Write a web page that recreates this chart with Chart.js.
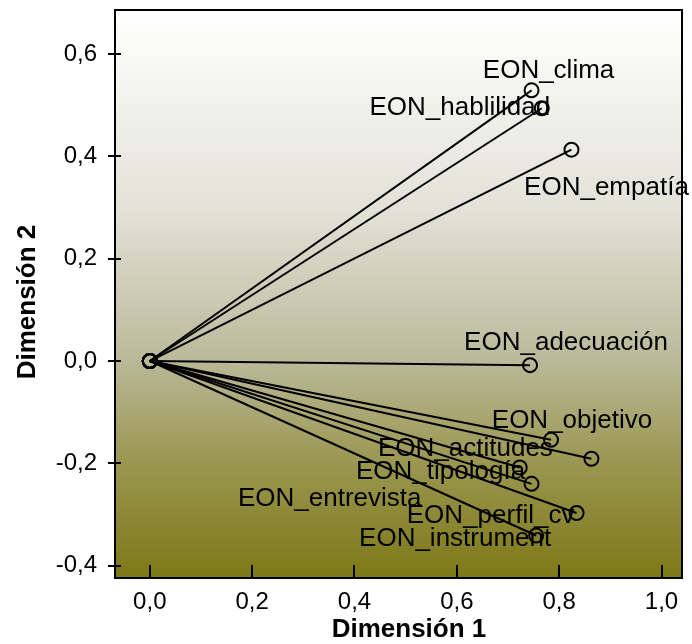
<!DOCTYPE html>
<html>
<head>
<meta charset="utf-8">
<script src="https://cdn.jsdelivr.net/npm/chart.js@4"></script>
<style>
  body { margin: 0; background: #fff; }
</style>
</head>
<body>
<canvas id="myChart" width="692" height="644"></canvas>
<script>
// Saturaciones en componentes (dimensión 1 y 2) de cada variable
const variables = ['EON_clima', 'EON_hablilidad', 'EON_empatía', 'EON_adecuación', 'EON_objetivo',
    'EON_actitudes', 'EON_tipología', 'EON_entrevista', 'EON_perfil_cv', 'EON_instrument'];
const dim1 = [0.746, 0.766, 0.824, 0.743, 0.784, 0.863, 0.746, 0.723, 0.834, 0.755];
const dim2 = [0.529, 0.494, 0.413, -0.008, -0.154, -0.191, -0.240, -0.208, -0.297, -0.341];

const xTicks = [0, 0.2, 0.4, 0.6, 0.8, 1.0];
const yTicks = [-0.4, -0.2, 0, 0.2, 0.4, 0.6];

// desplazamiento de cada etiqueta respecto a su punto (px)
const labelOffsets = [[17, -20], [-82, 0], [35, 38], [36, -22], [21, -19],
    [-126, -10], [-91, -12], [-190, 31], [-86, 3], [-81, 3]];

const fmt = v => v.toFixed(1).replace('.', ',');

const datasets = variables.map((name, i) => ({
    label: name,
    data: [{ x: 0, y: 0 }, { x: dim1[i], y: dim2[i] }],
    showLine: true,
    borderColor: '#000',
    borderWidth: 2,
    pointRadius: 7,
    pointBorderWidth: 2,
    pointBorderColor: '#000',
    pointBackgroundColor: 'rgba(0,0,0,0)',
    fill: false
}));

// fondo degradado, marco, marcas de los ejes y etiquetas
const decor = {
    id: 'decor',
    beforeDatasetsDraw(chart) {
        const { ctx, chartArea: a } = chart;
        const g = ctx.createLinearGradient(0, a.top, 0, a.bottom);
        g.addColorStop(0, '#ffffff');
        g.addColorStop(0.35, '#e2e2d8');
        g.addColorStop(0.6, '#bdbc9e');
        g.addColorStop(0.8, '#9a9650');
        g.addColorStop(1, '#7d7816');
        ctx.save();
        ctx.fillStyle = g;
        ctx.fillRect(a.left, a.top, a.right - a.left, a.bottom - a.top);
        ctx.restore();
    },
    afterDraw(chart) {
        const { ctx, chartArea: a, scales } = chart;
        ctx.save();
        // etiquetas de las variables
        ctx.font = '26px "Liberation Sans", Arial, sans-serif';
        ctx.fillStyle = '#000';
        ctx.textAlign = 'center';
        ctx.textBaseline = 'middle';
        variables.forEach((name, i) => {
            const px = scales.x.getPixelForValue(dim1[i]);
            const py = scales.y.getPixelForValue(dim2[i]);
            ctx.fillText(name, px + labelOffsets[i][0], py + labelOffsets[i][1]);
        });
        // marcas
        ctx.strokeStyle = '#000';
        ctx.lineWidth = 2;
        ctx.beginPath();
        yTicks.forEach(v => {
            const py = Math.round(scales.y.getPixelForValue(v));
            ctx.moveTo(a.left - 7, py);
            ctx.lineTo(a.left + 6, py);
        });
        xTicks.forEach(v => {
            const px = Math.round(scales.x.getPixelForValue(v));
            ctx.moveTo(px, a.bottom);
            ctx.lineTo(px, a.bottom - 13);
        });
        ctx.stroke();
        // marco
        ctx.strokeRect(a.left, a.top, a.right - a.left, a.bottom - a.top);
        // títulos de los ejes
        ctx.font = 'bold 26px "Liberation Sans", Arial, sans-serif';
        ctx.fillText('Dimensión 1', 409, 630);
        ctx.translate(28, 302);
        ctx.rotate(-Math.PI / 2);
        ctx.fillText('Dimensión 2', 0, 0);
        ctx.restore();
    }
};

const tickFont = { family: '"Liberation Sans", Arial, sans-serif', size: 24 };

new Chart(document.getElementById('myChart').getContext('2d'), {
    type: 'scatter',
    data: { datasets },
    options: {
        responsive: false,
        animation: false,
        layout: { padding: { top: 10, right: 10, left: 0, bottom: 0 } },
        plugins: { legend: { display: false }, tooltip: { enabled: false } },
        scales: {
            x: {
                type: 'linear',
                min: -0.068,
                max: 1.04,
                grid: { display: false, drawTicks: false },
                border: { display: false },
                ticks: { color: '#000', font: tickFont, padding: 10, callback: fmt },
                afterBuildTicks: s => { s.ticks = xTicks.map(v => ({ value: v })); },
                afterFit: s => { s.height = 66; s.paddingLeft = 0; s.paddingRight = 0; }
            },
            y: {
                type: 'linear',
                min: -0.424,
                max: 0.686,
                grid: { display: false, drawTicks: false },
                border: { display: false },
                ticks: { color: '#000', font: tickFont, padding: 18, callback: fmt },
                afterBuildTicks: s => { s.ticks = yTicks.map(v => ({ value: v })); },
                afterFit: s => { s.width = 115; s.paddingTop = 0; s.paddingBottom = 0; }
            }
        }
    },
    plugins: [decor]
});
</script>
</body>
</html>
